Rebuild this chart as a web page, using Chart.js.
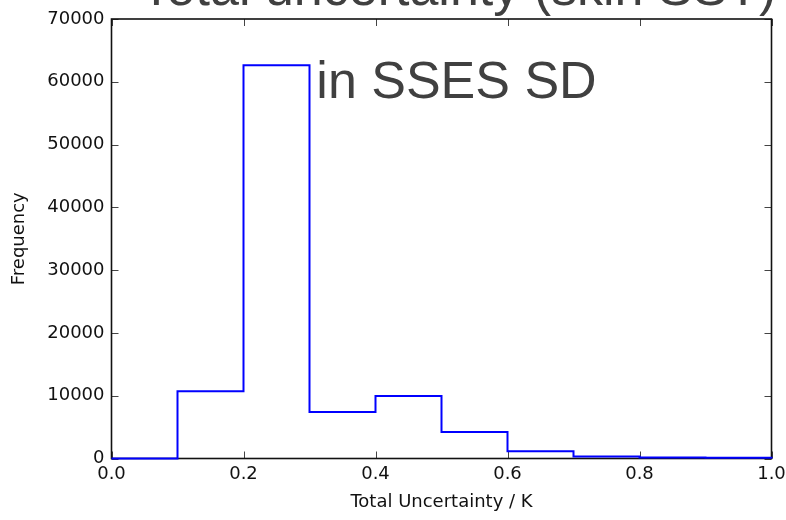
<!DOCTYPE html>
<html><head><meta charset="utf-8">
<style>html,body{margin:0;padding:0;background:#fff;overflow:hidden}#wrap{width:786px;height:520px;position:relative}</style>
<script src="https://cdn.jsdelivr.net/npm/chart.js@4"></script>
</head><body><div id="wrap"><canvas id="c" width="786" height="520"></canvas></div>
<script>
// ---- data ----
const binEdges = [0.0, 0.1, 0.2, 0.3, 0.4, 0.5, 0.6, 0.7, 0.8, 0.9, 1.0];
const binCounts = [0, 10720, 62630, 7420, 9970, 4240, 1150, 300, 150, 100];
const xTickValues = [0.0, 0.2, 0.4, 0.6, 0.8, 1.0];
const yTickValues = [0, 10000, 20000, 30000, 40000, 50000, 60000, 70000];
const titleLines = ['Total uncertainty (skin SST)', 'in SSES SD'];
const xAxisLabel = 'Total Uncertainty / K';
const yAxisLabel = 'Frequency';

// step outline points built from bins
const stepPoints = binCounts.map((c, i) => ({x: binEdges[i], y: c}));
stepPoints.push({x: binEdges[binEdges.length - 1], y: binCounts[binCounts.length - 1]});
stepPoints.push({x: binEdges[binEdges.length - 1], y: 0});

const tickFont = {family: '"DejaVu Sans", sans-serif', size: 18};

const frameTicks = {
  id: 'frameTicks',
  beforeDatasetsDraw(chart) {
    const {ctx, chartArea: a, scales: {x, y}} = chart;
    ctx.save();
    ctx.strokeStyle = '#444';
    ctx.lineWidth = 1;
    const L = 7;
    ctx.beginPath();
    xTickValues.forEach(v => {
      const px = Math.round(x.getPixelForValue(v)) + 0.5;
      ctx.moveTo(px, a.bottom); ctx.lineTo(px, a.bottom - L);
      ctx.moveTo(px, a.top); ctx.lineTo(px, a.top + L);
    });
    yTickValues.forEach(v => {
      const py = Math.round(y.getPixelForValue(v)) + 0.5;
      ctx.moveTo(a.left, py); ctx.lineTo(a.left + L, py);
      ctx.moveTo(a.right, py); ctx.lineTo(a.right - L, py);
    });
    ctx.stroke();
    ctx.strokeStyle = '#111';
    ctx.lineWidth = 1.6;
    ctx.strokeRect(a.left, a.top, a.right - a.left, a.bottom - a.top);
    ctx.restore();
  },
  afterDraw(chart) {
    const {ctx, chartArea: a} = chart;
    ctx.save();
    ctx.fillStyle = '#404040';
    ctx.font = '52px "Liberation Sans", Arial, sans-serif';
    ctx.textAlign = 'center';
    ctx.textBaseline = 'alphabetic';
    const cx = (a.left + a.right) / 2 + 17;
    ctx.fillText(titleLines[0], cx, a.top - 14);
    ctx.fillText(titleLines[1], cx - 2, a.top + 79);
    ctx.restore();
  }
};

new Chart(document.getElementById('c'), {
  type: 'line',
  data: {datasets: [{
    data: stepPoints,
    stepped: 'before',
    borderColor: '#0000ff',
    borderWidth: 2,
    pointRadius: 0,
    fill: false,
    clip: 4
  }]},
  options: {
    responsive: false,
    animation: false,
    devicePixelRatio: 1,
    layout: {padding: {left: 0, top: 19, right: 14.5, bottom: 0}},
    plugins: {legend: {display: false}, title: {display: false}, tooltip: {enabled: false}},
    scales: {
      x: {
        type: 'linear', min: 0, max: 1,
        afterBuildTicks: s => { s.ticks = xTickValues.map(v => ({value: v})); },
        afterFit: s => { s.height = 61.5; s.paddingLeft = 0; s.paddingRight = 0; },
        grid: {display: false, drawTicks: false},
        border: {display: false},
        ticks: {font: tickFont, color: '#111', padding: 5, maxRotation: 0, autoSkip: false,
          callback: v => Number(v).toFixed(1)},
        title: {display: true, text: xAxisLabel, font: {family: '"DejaVu Sans", sans-serif', size: 18},
          color: '#111', padding: {top: 0, bottom: 7}}
      },
      y: {
        type: 'linear', min: 0, max: 70000,
        afterBuildTicks: s => { s.ticks = yTickValues.map(v => ({value: v})); },
        afterFit: s => { s.width = 111.5; s.paddingTop = 0; s.paddingBottom = 0; },
        grid: {display: false, drawTicks: false},
        border: {display: false},
        ticks: {font: tickFont, color: '#111', padding: 7, autoSkip: false,
          callback: v => String(v)},
        title: {display: true, text: yAxisLabel, font: {family: '"DejaVu Sans", sans-serif', size: 18},
          color: '#111', padding: {top: 9, bottom: 0}}
      }
    }
  },
  plugins: [frameTicks]
});
</script></body></html>
